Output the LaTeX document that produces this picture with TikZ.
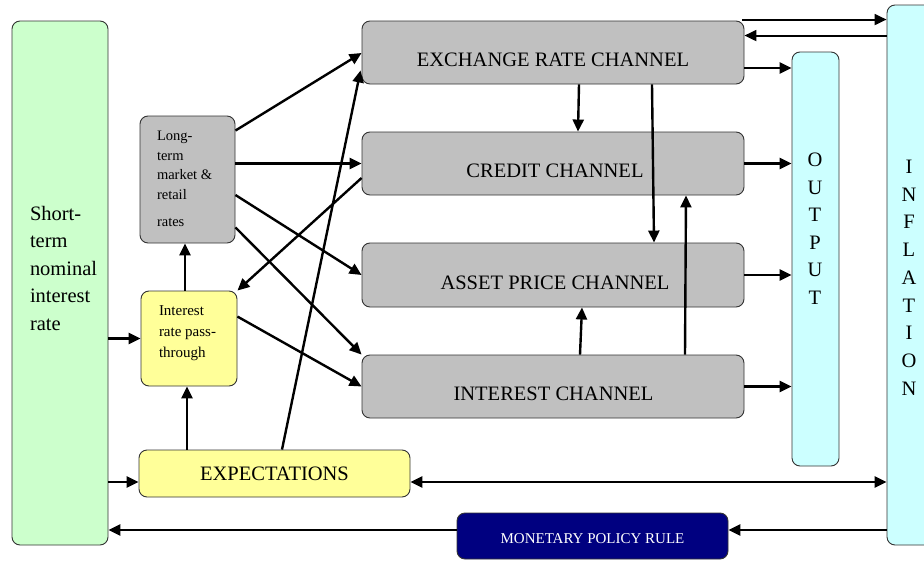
\documentclass[tikz,border=0pt]{standalone}
\usepackage{fontspec}
\setmainfont{Liberation Serif}
\usetikzlibrary{arrows.meta,calc}
\definecolor{stgreen}{HTML}{CCFFCC}
\definecolor{chgray}{HTML}{C0C0C0}
\definecolor{exyellow}{HTML}{FFFF99}
\definecolor{outcyan}{HTML}{CCFFFF}
\definecolor{mprnavy}{HTML}{000080}
\definecolor{edgegray}{HTML}{333333}
\begin{document}
\begin{tikzpicture}[x=1pt,y=-1pt,
  box/.style={draw=edgegray,line width=0.9pt,rounded corners=8pt,inner sep=0pt},
  chbox/.style={box,fill=chgray,minimum width=382pt,minimum height=63pt},
  txt/.style={inner sep=0pt,outer sep=0pt},
  bigtxt/.style={txt,font=\fontsize{20.5}{24}\selectfont},
  arr/.style={line width=2.4pt,-{Triangle[length=12pt,width=11pt]}},
  thinarr/.style={line width=1.9pt,-{Triangle[length=12pt,width=11pt]}},
  dblarr/.style={line width=2.4pt,{Triangle[length=12pt,width=11pt]}-{Triangle[length=12pt,width=11pt]}}
]
\useasboundingbox (0,0) rectangle (924,562);
\clip (0,0) rectangle (924,562);
\fill[white] (0,0) rectangle (924,562);

% boxes
\node[box,fill=stgreen,minimum width=96pt,minimum height=524pt] (st) at (60,283) {};
\node[box,fill=chgray,minimum width=95pt,minimum height=127pt] (lt) at (187.5,179.5) {};
\node[box,fill=exyellow,minimum width=96pt,minimum height=95pt] (pt) at (189,338.5) {};
\node[box,fill=exyellow,minimum width=271pt,minimum height=47pt] (ex) at (274.5,473.5) {};
\node[chbox] (erc) at (553,52.5) {};
\node[chbox] (cc) at (553,163.5) {};
\node[chbox,minimum height=64pt] (ap) at (553,275) {};
\node[chbox] (ic) at (553,386.5) {};
\node[box,fill=outcyan,minimum width=47pt,minimum height=414pt] (out) at (815.5,259) {};
\node[box,fill=outcyan,minimum width=60pt,minimum height=540pt] (inf) at (917,275) {};
\node[box,fill=mprnavy,minimum width=271pt,minimum height=46pt] (mpr) at (592.5,536) {};

% texts
\node[txt,anchor=north west,align=left,font=\fontsize{20.5}{27.5}\selectfont] (stT) at (30,206) {Short-\\term\\nominal\\interest\\rate};
\node[txt,anchor=north west,align=left,font=\fontsize{14.5}{19.5}\selectfont] (ltT) at (157,131.5) {Long-\\term\\market \&\\retail\\[7.5pt]rates};
\node[txt,anchor=north west,align=left,font=\fontsize{15}{21}\selectfont] (ptT) at (159,305.2) {Interest\\rate pass-\\through};
\node[bigtxt,anchor=base] (exT) at ($(ex.center)+(0,6.5)$) {EXPECTATIONS};
\node[bigtxt,anchor=base] (ercT) at ($(erc.center)+(0,14)$) {EXCHANGE RATE CHANNEL};
\node[bigtxt,anchor=base] (ccT) at ($(cc.center)+(2,14)$) {CREDIT CHANNEL};
\node[bigtxt,anchor=base] (apT) at ($(ap.center)+(2,14)$) {ASSET PRICE CHANNEL};
\node[bigtxt,anchor=base] (icT) at ($(ic.center)+(0.5,13.5)$) {INTEREST CHANNEL};
\node[txt,anchor=base,text=white,font=\fontsize{15}{18}\selectfont] (mprT) at ($(mpr.center)+(0,7)$) {MONETARY POLICY RULE};
\node[txt,anchor=north,align=center,font=\fontsize{20.5}{27.6}\selectfont] (outT) at (815,153) {O\\U\\T\\P\\U\\T};
\node[txt,anchor=north,align=center,font=\fontsize{20.5}{27.75}\selectfont] (infT) at (909,160) {I\\N\\F\\L\\A\\T\\I\\O\\N};

% helper coordinates
\coordinate (exL) at ($(ex.west)+(0,8.5)$);
\coordinate (exR) at ($(ex.east)+(0,8.5)$);
\coordinate (mprL) at ($(mpr.west)+(0,-6)$);
\coordinate (mprR) at ($(mpr.east)+(0,-6)$);
\coordinate (ercA) at ($(erc.north east)+(-2,-1)$);
\coordinate (ercB) at ($(erc.north east)+(0,15)$);
\coordinate (ercC) at ($(erc.east)+(0,15.5)$);
\coordinate (ptN) at ($(pt.north)+(-4,0)$);
\coordinate (ptS) at ($(pt.south)+(-2,0)$);

% connectors left side
\draw[arr] (st.east |- pt.west) -- (pt.west);
\draw[arr] (st.east |- exL) -- (exL);
\draw[arr] (mprL) -- (st.east |- mprL);
\draw[arr] (inf.west |- mprR) -- (mprR);
\draw[dblarr] (exR) -- (inf.west |- exR);

% right side
\draw[thinarr] (ercA) -- (inf.west |- ercA);
\draw[thinarr] (inf.west |- ercB) -- (ercB);
\draw[arr] (ercC) -- (out.west |- ercC);
\draw[arr] (cc.east) -- (out.west |- cc.east);
\draw[arr] (ap.east) -- (out.west |- ap.east);
\draw[arr] (ic.east) -- (out.west |- ic.east);

% verticals on left
\draw[arr] (ptN) -- (ptN |- lt.south);
\draw[arr] (ptS |- ex.north) -- (ptS);

% diagonals
\draw[arr] ($(lt.north east)+(0,15)$) -- ($(erc.west)+(0,0.5)$);
\draw[arr] (lt.east |- cc.west) -- (cc.west);
\draw[arr] ($(lt.east)+(0,15.5)$) -- (ap.west);
\draw[arr] ($(lt.south east)+(0,-16)$) -- (ic.north west);
\draw[arr] ($(cc.west)+(0,14.5)$) -- (pt.north east);
\draw[arr] ($(ex.north)+(7.5,0)$) -- ($(erc.south west)+(-1,-14)$);
\draw[arr] ($(pt.north east)+(0,26)$) -- (ic.west);

% verticals between channels
\draw[arr] ($(erc.south)+(26,0)$) -- ($(cc.north)+(25,0)$);
\draw[arr] ($(erc.south)+(99,0)$) -- ($(ap.north)+(101,0)$);
\draw[arr] ($(ic.north)+(27,0)$) -- ($(ap.south)+(29,0)$);
\draw[arr] ($(ic.north)+(132,0)$) -- ($(cc.south)+(133,0)$);
\end{tikzpicture}
\end{document}
